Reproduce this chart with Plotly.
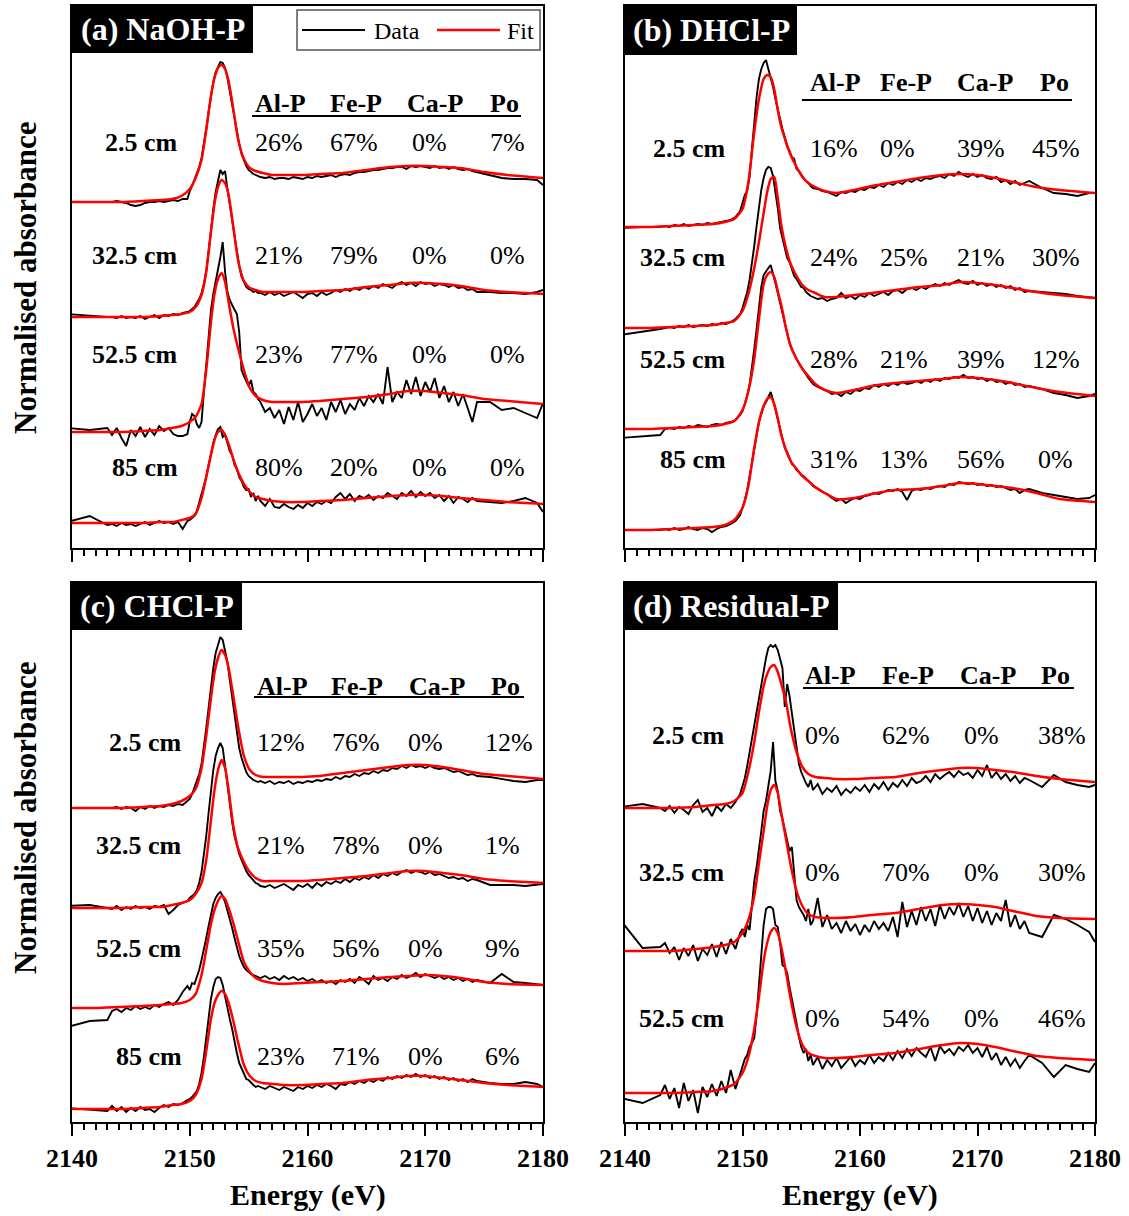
import plotly.graph_objects as go

# ---------------------------------------------------------------------------
# Energy axes (eV)
# ---------------------------------------------------------------------------
E_DATA = ([2139.6, 2141.5, 2143.0]
          + [round(2143.4 + 0.4 * i, 1) for i in range(17)]
          + [round(2150.0 + 0.2 * i, 1) for i in range(30)]
          + [round(2156.0 + 0.4 * i, 1) for i in range(47)]
          + [2175.5, 2176.5, 2177.5, 2178.5, 2179.5, 2180.0])

E_FIT = [2139.6, 2142, 2144, 2146, 2147.5, 2148.5, 2149.3, 2150.0, 2150.5, 2151.0,
         2151.4, 2151.8, 2152.1, 2152.4, 2152.7, 2153.0, 2153.3, 2153.7, 2154.1, 2154.6,
         2155.1, 2155.6, 2156.2, 2157.0, 2158.0, 2159.5, 2161, 2163, 2165, 2167,
         2168.5, 2170, 2171.5, 2173, 2175, 2177, 2180]

PHASES = ["Al-P", "Fe-P", "Ca-P", "Po"]

# ---------------------------------------------------------------------------
# Spectra: baseline-subtracted absorbance (x100)
# ---------------------------------------------------------------------------
# (a) NaOH-P
NAOH_DEPTHS = ["2.5 cm", "32.5 cm", "52.5 cm", "85 cm"]
NAOH_PCT = [[26, 67, 0, 7], [21, 79, 0, 0], [23, 77, 0, 0], [80, 20, 0, 0]]
NAOH_DATA_1 = [0, 0, 0,
               0, 1, 0, -1, -3, -4, -3, -1, 0, 0, 1, 0, 1, 2, 1, 3, 3,
               11, 16, 22, 28, 35, 44, 57, 73, 90, 107, 120, 130, 136, 140, 139, 134, 124, 110, 97, 84,
               70, 58, 48, 41, 36, 32, 30, 28, 27, 26,
               25, 24, 25, 23, 24, 24, 23, 25, 24, 23, 25, 24, 26, 25, 26, 27, 25, 27, 28, 27,
               29, 30, 30, 31, 32, 32, 33, 34, 34, 35, 35, 33, 36, 35, 36, 35, 34, 36, 34, 35,
               33, 35, 33, 32, 33, 31, 30,
               27, 24, 23, 23, 22, 17]
NAOH_DATA_2 = [3, 1, 0,
               0, -1, 1, -1, 0, -1, 1, -2, 0, 2, -1, 2, 1, 3, 2, 4, 5,
               6, 8, 10, 14, 18, 24, 33, 46, 64, 86, 108, 125, 136, 147, 143, 146, 128, 113, 97, 80,
               64, 51, 40, 34, 30, 28, 27, 25, 26, 24,
               24, 22, 25, 22, 24, 21, 23, 25, 22, 19, 23, 24, 21, 25, 22, 24, 27, 25, 28, 26,
               29, 27, 30, 28, 31, 29, 33, 31, 29, 33, 35, 32, 34, 31, 35, 33, 34, 31, 33, 32,
               30, 32, 29, 30, 27, 28, 25,
               25, 24, 24, 23, 25, 27]
NAOH_DATA_3 = [4, 2, 4,
               -3, 4, -6, -14, 2, -4, 5, -5, 3, -3, 6, 1, 4, -2, -4, -4, -2,
               10, 18, 16, 8, 4, 10, 40, 70, 100, 122, 138, 150, 162, 175, 190, 160, 140, 132, 127, 123,
               118, 100, 62, 56, 50, 46, 52, 40, 38, 33,
               30, 20, 24, 14, 22, 8, 25, 12, 30, 10, 18, 28, 16, 24, 12, 30, 20, 32, 18, 28,
               22, 34, 26, 36, 30, 38, 28, 65, 30, 40, 34, 52, 38, 55, 36, 50, 40, 54, 34, 46,
               30, 40, 26, 38, 24, 10, 30,
               30, 22, 24, 19, 14, 29]
NAOH_DATA_4 = [1, 7, -2,
               -1, -3, 0, -2, -1, -3, -1, 1, -2, 0, 2, 0, 1, -1, 1, -6, 2,
               3, 5, 7, 12, 20, 28, 36, 46, 58, 70, 80, 88, 94, 96, 86, 88, 80, 72, 68, 58,
               54, 46, 42, 36, 33, 34, 26, 30, 22, 27,
               22, 17, 24, 16, 15, 19, 16, 14, 18, 15, 20, 17, 21, 19, 22, 20, 26, 30, 24, 29,
               22, 27, 25, 28, 23, 27, 25, 30, 27, 24, 30, 27, 32, 26, 31, 27, 30, 25, 28, 22,
               27, 20, 26, 24, 21, 25, 22,
               21, 20, 22, 25, 20, 11]
NAOH_FIT_1 = [0, 0, 0, 1, 2, 3, 6, 13, 24, 42, 72, 106, 124, 134, 137, 133, 121, 93, 63, 43,
              34, 31, 29, 27, 27, 27, 28, 29, 32, 35, 36, 36, 35, 34, 30, 27, 24]
NAOH_FIT_2 = [0, 0, 0, 0, 1, 2, 3, 5, 10, 22, 45, 85, 113, 130, 137, 134, 122, 90, 57, 36,
              29, 27, 25, 25, 25, 25, 26, 27, 30, 32, 34, 34, 33, 31, 27, 25, 23]
NAOH_FIT_3 = [0, 0, 0, 1, 2, 4, 6, 10, 15, 28, 62, 110, 138, 153, 159, 150, 130, 104, 84, 62,
              44, 36, 32, 30, 30, 30, 31, 33, 35, 38, 41, 41, 39, 37, 33, 31, 28]
NAOH_FIT_4 = [0, 0, 0, 0, 1, 1, 3, 5, 9, 25, 46, 68, 83, 91, 93, 88, 79, 64, 51, 39,
              31, 26, 24, 22, 21, 21, 22, 23, 25, 27, 28, 28, 27, 25, 23, 21, 19]

# (b) DHCl-P
DHCL_DEPTHS = ["2.5 cm", "32.5 cm", "52.5 cm", "85 cm"]
DHCL_PCT = [[16, 0, 39, 45], [24, 25, 21, 30], [28, 21, 39, 12], [31, 13, 56, 0]]
DHCL_DATA_1 = [-1, 0, 0,
               1, 0, 2, 1, 3, 1, 2, 3, 2, 4, 3, 4, 5, 6, 7, 10, 16,
               24, 32, 36, 50, 78, 105, 130, 148, 158, 164, 167, 158, 150, 140, 128, 118, 106, 98, 90, 80,
               76, 70, 68, 58, 56, 52, 49, 46, 44, 41,
               39, 38, 36, 35, 33, 31, 35, 34, 36, 35, 38, 37, 40, 39, 42, 40, 44, 42, 45, 43,
               47, 45, 48, 46, 49, 48, 50, 51, 49, 53, 51, 55, 52, 50, 53, 50, 52, 49, 48, 50,
               45, 47, 43, 46, 42, 44, 46,
               39, 34, 33, 31, 34, 34]
DHCL_DATA_2 = [-7, -4, -1,
               0, 1, 0, 2, 1, 3, 1, 2, 3, 2, 4, 3, 5, 4, 6, 9, 14,
               20, 27, 36, 48, 64, 82, 102, 122, 138, 150, 158, 161, 160, 152, 138, 120, 100, 90, 82, 70,
               66, 58, 52, 49, 45, 41, 40, 36, 34, 32,
               31, 29, 30, 27, 29, 30, 35, 30, 32, 29, 33, 31, 35, 32, 34, 36, 33, 37, 38, 35,
               39, 40, 38, 41, 39, 42, 44, 42, 45, 43, 46, 48, 45, 44, 47, 43, 45, 42, 44, 41,
               43, 40, 42, 38, 40, 36, 37,
               36, 35, 34, 32, 31, 30]
DHCL_DATA_3 = [-9, -7, -6,
               0, 1, 0, 2, 1, 3, 2, 4, 3, 2, 4, 5, 4, 6, 7, 9, 14,
               18, 25, 33, 44, 60, 80, 100, 122, 142, 154, 158, 161, 164, 156, 146, 136, 126, 114, 104, 95,
               86, 80, 74, 70, 66, 62, 58, 55, 51, 48,
               45, 42, 40, 38, 35, 36, 33, 37, 35, 39, 38, 41, 40, 44, 42, 45, 43, 46, 44, 47,
               45, 46, 48, 46, 49, 47, 50, 48, 51, 50, 52, 51, 54, 51, 52, 50, 51, 48, 50, 47,
               48, 45, 47, 44, 45, 42, 43,
               40, 36, 34, 31, 33, 35]
DHCL_DATA_4 = [0, 0, 0,
               1, 0, 2, 0, 1, 3, 1, 0, 2, 1, -2, 1, 3, 4, 6, 9, 15,
               22, 30, 40, 54, 70, 84, 98, 108, 116, 124, 128, 134, 138, 130, 120, 110, 100, 92, 82, 78,
               72, 66, 64, 60, 58, 55, 54, 51, 49, 47,
               44, 41, 38, 36, 32, 29, 31, 27, 30, 32, 31, 34, 35, 37, 36, 38, 40, 39, 41, 38,
               30, 39, 41, 40, 42, 41, 43, 44, 43, 46, 45, 48, 47, 46, 47, 45, 46, 44, 45, 43,
               44, 42, 40, 41, 37, 40, 41,
               37, 35, 33, 31, 32, 35]
DHCL_FIT_1 = [0, 0, 1, 2, 3, 5, 8, 18, 45, 95, 128, 148, 152, 150, 138, 117, 100, 85, 72, 60,
              50, 44, 40, 36, 34, 37, 41, 45, 49, 52, 53, 52, 49, 45, 40, 37, 34]
DHCL_FIT_2 = [0, 0, 1, 2, 3, 5, 7, 17, 34, 60, 86, 115, 136, 149, 151, 130, 103, 80, 64, 52,
              43, 38, 35, 31, 31, 33, 35, 38, 41, 43, 46, 45, 43, 40, 36, 33, 30]
DHCL_FIT_3 = [0, 0, 1, 2, 3, 5, 8, 19, 38, 70, 110, 145, 154, 157, 152, 138, 124, 101, 83, 70,
              60, 53, 45, 39, 36, 39, 43, 46, 48, 50, 52, 51, 49, 46, 41, 37, 33]
DHCL_FIT_4 = [0, 0, 1, 2, 3, 5, 10, 22, 44, 82, 108, 124, 131, 133, 126, 112, 95, 80, 69, 61,
              54, 49, 43, 37, 31, 32, 36, 40, 41, 44, 47, 46, 44, 42, 37, 31, 28]

# (c) CHCl-P
CHCL_DEPTHS = ["2.5 cm", "32.5 cm", "52.5 cm", "85 cm"]
CHCL_PCT = [[12, 76, 0, 12], [21, 78, 0, 1], [35, 56, 0, 9], [23, 71, 0, 6]]
CHCL_DATA_1 = [0, 0, 0,
               0, 1, -1, 1, 0, -3, 1, -1, 2, 0, 2, 1, 3, 2, 4, 3, 7,
               9, 14, 20, 26, 34, 44, 60, 80, 100, 122, 140, 155, 164, 171, 168, 158, 146, 128, 110, 92,
               76, 60, 50, 42, 36, 32, 30, 28, 27, 26,
               27, 25, 27, 24, 26, 25, 27, 24, 26, 25, 27, 26, 28, 27, 29, 28, 31, 29, 32, 31,
               34, 32, 35, 34, 37, 35, 38, 37, 40, 39, 42, 40, 43, 41, 42, 40, 42, 40, 39, 40,
               38, 36, 37, 35, 33, 34, 32,
               31, 29, 27, 26, 28, 28]
CHCL_DATA_2 = [2, 3, 0,
               -1, 2, -2, 1, -1, 2, 0, 1, -1, 2, 1, 3, -6, -2, 3, 5, 7,
               10, 12, 14, 18, 25, 36, 52, 72, 95, 118, 138, 152, 160, 165, 160, 142, 122, 102, 86, 72,
               62, 54, 48, 42, 37, 33, 30, 27, 25, 24,
               22, 21, 23, 20, 22, 24, 21, 18, 23, 21, 24, 20, 25, 22, 26, 24, 27, 25, 29, 26,
               30, 28, 31, 29, 33, 30, 34, 32, 35, 33, 36, 38, 35, 37, 36, 34, 36, 33, 34, 32,
               30, 31, 29, 30, 27, 29, 28,
               23, 23, 23, 22, 23, 24]
CHCL_DATA_3 = [-19, -13, -12,
               -3, -1, -4, 0, -2, 2, -1, 1, -1, 3, 1, 4, 6, 3, 8, 16, 22,
               18, 25, 24, 30, 38, 48, 58, 70, 82, 94, 104, 110, 114, 116, 112, 106, 98, 90, 80, 70,
               60, 52, 46, 41, 38, 36, 34, 33, 32, 31,
               30, 32, 29, 31, 28, 32, 29, 31, 28, 30, 27, 29, 26, 28, 25, 27, 24, 28, 26, 29,
               25, 31, 28, 24, 32, 28, 30, 27, 31, 29, 33, 30, 32, 35, 31, 34, 32, 30, 32, 29,
               31, 28, 30, 27, 29, 26, 28,
               25, 34, 26, 25, 24, 23]
CHCL_DATA_4 = [1, -1, -2,
               3, -2, 2, -3, 1, -2, 2, -1, 0, -3, 1, 4, 2, 5, 4, 6, 9,
               10, 12, 15, 18, 25, 36, 52, 72, 92, 110, 122, 130, 132, 131, 124, 112, 100, 90, 80, 66,
               56, 46, 40, 35, 30, 29, 26, 24, 22, 23,
               22, 20, 23, 21, 19, 22, 20, 18, 22, 20, 23, 21, 24, 22, 25, 23, 20, 25, 24, 27,
               25, 28, 26, 29, 27, 30, 28, 32, 30, 33, 31, 34, 32, 35, 32, 34, 31, 33, 30, 32,
               29, 31, 28, 30, 27, 30, 28,
               26, 25, 25, 27, 25, 22]
CHCL_FIT_1 = [0, 0, 0, 1, 2, 4, 7, 12, 19, 40, 72, 110, 135, 150, 158, 153, 140, 112, 82, 52,
              38, 33, 31, 31, 31, 31, 32, 35, 38, 41, 43, 43, 41, 38, 34, 32, 29]
CHCL_FIT_2 = [0, 0, 0, 1, 1, 3, 5, 8, 14, 25, 48, 88, 118, 138, 148, 140, 118, 82, 60, 46,
              36, 30, 27, 27, 27, 27, 28, 30, 32, 35, 37, 37, 35, 33, 29, 27, 25]
CHCL_FIT_3 = [0, 0, 1, 2, 3, 4, 5, 8, 14, 33, 58, 84, 98, 107, 112, 109, 100, 85, 67, 46,
              36, 30, 27, 25, 24, 25, 26, 27, 29, 31, 32, 33, 32, 30, 26, 24, 23]
CHCL_FIT_4 = [0, 0, 0, 1, 2, 4, 5, 8, 14, 30, 58, 90, 106, 114, 118, 115, 106, 88, 67, 44,
              33, 28, 26, 25, 24, 24, 25, 26, 29, 31, 33, 33, 31, 29, 26, 24, 22]

# (d) Residual-P
RESID_DEPTHS = ["2.5 cm", "32.5 cm", "52.5 cm"]
RESID_PCT = [[0, 62, 0, 38], [0, 70, 0, 30], [0, 54, 0, 46]]
RESID_DATA_1 = [1, 4, 0,
                -3, 2, -5, 1, -2, -6, 3, 8, -4, 0, -8, 2, -3, 4, 0, 6, 14,
                22, 30, 42, 56, 70, 84, 98, 110, 124, 138, 150, 160, 163, 161, 163, 158, 150, 140, 101, 124,
                112, 95, 75, 56, 44, 36, 30, 25, 21, 28,
                18, 24, 14, 20, 16, 22, 13, 19, 15, 21, 17, 23, 16, 24, 19, 26, 18, 25, 21, 28,
                22, 30, 25, 27, 32, 26, 34, 29, 33, 36, 31, 37, 33, 35, 30, 38, 32, 43, 30, 36,
                29, 34, 27, 32, 25, 30, 28,
                21, 33, 26, 23, 21, 23]
RESID_DATA_2 = [31, 3, 4,
                8, -2, 4, -9, 3, -5, 6, -10, 2, -4, 7, -6, 9, -3, 12, 2, 18,
                22, 14, 26, 21, 45, 70, 84, 100, 120, 140, 150, 165, 180, 209, 170, 160, 140, 132, 122, 110,
                100, 104, 78, 51, 44, 40, 36, 30, 42, 26,
                30, 53, 24, 36, 22, 28, 18, 30, 20, 27, 16, 26, 19, 30, 22, 28, 20, 34, 14, 49,
                24, 40, 26, 44, 30, 42, 25, 46, 32, 44, 36, 48, 34, 45, 30, 43, 28, 40, 26, 38,
                30, 51, 24, 36, 22, 30, 18,
                14, 36, 32, 26, 19, 9]
RESID_DATA_3 = [-5, -10, -2,
                8, -6, 5, -15, 10, -8, 3, -20, 6, -4, 9, -3, 12, 0, 23, 4, 20,
                26, 34, 38, 46, 50, 55, 78, 110, 140, 168, 184, 186, 186, 184, 168, 166, 150, 128, 126, 120,
                106, 95, 82, 70, 56, 46, 40, 44, 32, 38,
                28, 36, 24, 33, 27, 35, 25, 31, 36, 27, 33, 29, 38, 30, 36, 32, 40, 33, 42, 35,
                44, 37, 45, 40, 36, 46, 32, 47, 40, 44, 38, 46, 42, 48, 40, 45, 36, 46, 33, 40,
                28, 36, 27, 34, 25, 32, 38,
                30, 16, 28, 24, 21, 30]
RESID_FIT_1 = [0, 0, 0, 1, 3, 4, 7, 15, 36, 66, 96, 122, 134, 141, 143, 136, 124, 106, 80, 56,
               41, 34, 31, 30, 29, 29, 30, 31, 35, 38, 40, 40, 38, 36, 32, 29, 26]
RESID_FIT_2 = [0, 0, 0, 2, 4, 6, 9, 18, 31, 55, 88, 120, 145, 161, 166, 158, 138, 112, 86, 60,
               45, 37, 34, 33, 33, 34, 36, 38, 42, 46, 47, 46, 44, 40, 35, 33, 32]
RESID_FIT_3 = [0, 0, 0, 1, 2, 5, 9, 20, 36, 64, 96, 132, 150, 161, 165, 160, 146, 121, 94, 66,
               48, 40, 37, 35, 35, 36, 38, 40, 44, 48, 50, 49, 46, 42, 37, 35, 33]

SCALE = 0.01  # stored values are absorbance x100

# ---------------------------------------------------------------------------
# Panel layout
# ---------------------------------------------------------------------------
SERIF = "Liberation Serif"
X_LEFT = [72 / 1129, 543 / 1129]
X_RIGHT = [625 / 1129, 1095 / 1129]
Y_TOP = [1 - 548 / 1216, 1 - 6 / 1216]
Y_BOTTOM = [1 - 1122 / 1216, 1 - 583 / 1216]

panels = [
    dict(name="(a) NaOH-P", ax="", xdom=X_LEFT, ydom=Y_TOP, ytop=5.42,
         depths=NAOH_DEPTHS, pct=NAOH_PCT,
         data=[NAOH_DATA_1, NAOH_DATA_2, NAOH_DATA_3, NAOH_DATA_4],
         fit=[NAOH_FIT_1, NAOH_FIT_2, NAOH_FIT_3, NAOH_FIT_4],
         offsets=[3.46, 2.31, 1.16, 0.25],
         box=(2155.37, 4.95, 5.19, 2147.69),
         head_y=4.445, rule=(2155.29, 2178.13, 4.32),
         head_x=[2155.37, 2161.74, 2168.28, 2175.33],
         rows_y=[4.06, 2.93, 1.94, 0.81],
         cols=[(2155.37, "left"), (2161.74, "left"), (2170.40, "center"), (2175.33, "left")],
         depth_x=2149.17, ticklabels=False),
    dict(name="(b) DHCl-P", ax="2", xdom=X_RIGHT, ydom=Y_TOP, ytop=5.42,
         depths=DHCL_DEPTHS, pct=DHCL_PCT,
         data=[DHCL_DATA_1, DHCL_DATA_2, DHCL_DATA_3, DHCL_DATA_4],
         fit=[DHCL_FIT_1, DHCL_FIT_2, DHCL_FIT_3, DHCL_FIT_4],
         offsets=[3.21, 2.20, 1.19, 0.18],
         box=(2154.64, 4.93, 5.18, 2147.32),
         head_y=4.655, rule=(2155.06, 2178.04, 4.48),
         head_x=[2155.57, 2161.53, 2168.09, 2175.15],
         rows_y=[4.00, 2.91, 1.89, 0.89],
         cols=[(2155.57, "left"), (2161.53, "left"), (2168.09, "left"), (2176.68, "center")],
         depth_x=2148.77, ticklabels=False),
    dict(name="(c) CHCl-P", ax="3", xdom=X_LEFT, ydom=Y_BOTTOM, ytop=5.39,
         depths=CHCL_DEPTHS, pct=CHCL_PCT,
         data=[CHCL_DATA_1, CHCL_DATA_2, CHCL_DATA_3, CHCL_DATA_4],
         fit=[CHCL_FIT_1, CHCL_FIT_2, CHCL_FIT_3, CHCL_FIT_4],
         offsets=[3.14, 2.14, 1.14, 0.13],
         box=(2154.44, 4.92, 5.16, 2147.22),
         head_y=4.36, rule=(2155.46, 2178.39, 4.25),
         head_x=[2155.54, 2161.83, 2168.45, 2175.41],
         rows_y=[3.80, 2.77, 1.74, 0.66],
         cols=[(2155.54, "left"), (2161.91, "left"), (2170.06, "center"), (2174.90, "left")],
         depth_x=2149.51, ticklabels=True),
    dict(name="(d) Residual-P", ax="4", xdom=X_RIGHT, ydom=Y_BOTTOM, ytop=5.39,
         depths=RESID_DEPTHS, pct=RESID_PCT,
         data=[RESID_DATA_1, RESID_DATA_2, RESID_DATA_3],
         fit=[RESID_FIT_1, RESID_FIT_2, RESID_FIT_3],
         offsets=[3.14, 1.71, 0.29],
         box=(2158.13, 4.92, 5.16, 2149.06),
         head_y=4.47, rule=(2155.15, 2178.21, 4.34),
         head_x=[2155.15, 2161.70, 2168.34, 2175.23],
         rows_y=[3.87, 2.50, 1.04],
         cols=[(2155.15, "left"), (2161.70, "left"), (2170.38, "center"), (2174.98, "left")],
         depth_x=2148.68, ticklabels=True),
]

fig = go.Figure()
shapes = []
annotations = []

for p in panels:
    xr, yr = "x" + p["ax"], "y" + p["ax"]
    for k, (d, f) in enumerate(zip(p["data"], p["fit"])):
        if len(d) != len(E_DATA) or len(f) != len(E_FIT):
            raise ValueError(f"{p['name']} spectrum {k}: {len(d)} / {len(f)} points")
        off = p["offsets"][k]
        fig.add_trace(go.Scatter(
            x=E_DATA, y=[off + v * SCALE for v in d], mode="lines", name="Data",
            line=dict(color="black", width=1.9), xaxis=xr, yaxis=yr, showlegend=False))
        fig.add_trace(go.Scatter(
            x=E_FIT, y=[off + v * SCALE for v in f], mode="lines", name="Fit",
            line=dict(color="#ff0000", width=2.5, shape="spline", smoothing=0.6),
            xaxis=xr, yaxis=yr, showlegend=False))

    # panel title tag
    bx1, by0, bty, btx = p["box"]
    shapes.append(dict(type="rect", xref=xr, yref=yr, x0=2140, x1=bx1, y0=by0, y1=p["ytop"],
                       fillcolor="black", line=dict(width=0), layer="above"))
    annotations.append(dict(xref=xr, yref=yr, x=btx, y=bty, text=p["name"], showarrow=False,
                            xanchor="center", yanchor="middle",
                            font=dict(family=SERIF, size=32, color="white", weight="bold")))

    # column header with rule
    for hx, ph in zip(p["head_x"], PHASES):
        annotations.append(dict(xref=xr, yref=yr, x=hx, y=p["head_y"], text=ph, showarrow=False,
                                xanchor="left", yanchor="middle",
                                font=dict(family=SERIF, size=26, color="black", weight="bold")))
    r0, r1, ry = p["rule"]
    shapes.append(dict(type="line", xref=xr, yref=yr, x0=r0, x1=r1, y0=ry, y1=ry,
                       line=dict(color="black", width=2)))

    # depth labels and fractions
    for ry_, depth, row in zip(p["rows_y"], p["depths"], p["pct"]):
        annotations.append(dict(xref=xr, yref=yr, x=p["depth_x"], y=ry_, text=depth,
                                showarrow=False, xanchor="right", yanchor="middle",
                                font=dict(family=SERIF, size=26, color="black", weight="bold")))
        for (cx, anchor), val in zip(p["cols"], row):
            annotations.append(dict(xref=xr, yref=yr, x=cx, y=ry_, text=f"{val}%",
                                    showarrow=False, xanchor=anchor, yanchor="middle",
                                    font=dict(family=SERIF, size=26, color="black")))

    axis_common = dict(showline=True, linecolor="black", linewidth=2, mirror=True,
                       showgrid=False, zeroline=False, automargin=False)
    fig.layout["xaxis" + p["ax"]] = dict(
        domain=p["xdom"], range=[2140, 2180], anchor=yr, tick0=2140, dtick=10,
        ticks="outside", ticklen=12, tickwidth=2, tickcolor="black",
        showticklabels=p["ticklabels"], ticklabelstandoff=0,
        tickfont=dict(family=SERIF, size=26, color="black", weight="bold"),
        minor=dict(ticks="outside", dtick=1, tick0=2140, ticklen=6, tickwidth=1.5,
                   tickcolor="black", showgrid=False),
        **axis_common)
    fig.layout["yaxis" + p["ax"]] = dict(
        domain=p["ydom"], range=[0, p["ytop"]], anchor=xr, ticks="", showticklabels=False,
        **axis_common)

# legend (panel a)
LEG_Y = 5.18
shapes.append(dict(type="rect", xref="x", yref="y", x0=2159.11, x1=2179.75, y0=4.98, y1=5.38,
                   fillcolor="white", line=dict(color="#555555", width=1.5)))
shapes.append(dict(type="line", xref="x", yref="y", x0=2159.53, x1=2164.88, y0=LEG_Y, y1=LEG_Y,
                   line=dict(color="black", width=2)))
shapes.append(dict(type="line", xref="x", yref="y", x0=2171.0, x1=2176.35, y0=LEG_Y, y1=LEG_Y,
                   line=dict(color="#ff0000", width=2.5)))
annotations.append(dict(xref="x", yref="y", x=2165.48, y=5.17, text="Data", showarrow=False,
                        xanchor="left", yanchor="middle",
                        font=dict(family=SERIF, size=24, color="black")))
annotations.append(dict(xref="x", yref="y", x=2176.77, y=5.17, text="Fit", showarrow=False,
                        xanchor="left", yanchor="middle",
                        font=dict(family=SERIF, size=24, color="black")))

# axis titles
for yp in (1 - 278 / 1216, 1 - 818 / 1216):
    annotations.append(dict(xref="paper", yref="paper", x=25 / 1129, y=yp,
                            text="Normalised absorbance", textangle=-90, showarrow=False,
                            xanchor="center", yanchor="middle",
                            font=dict(family=SERIF, size=31, color="black", weight="bold")))
for xp in (307.5 / 1129, 860 / 1129):
    annotations.append(dict(xref="paper", yref="paper", x=xp, y=1 - 1195 / 1216,
                            text="Energy (eV)", showarrow=False,
                            xanchor="center", yanchor="middle",
                            font=dict(family=SERIF, size=30, color="black", weight="bold")))

fig.update_layout(width=1129, height=1216,
                  margin=dict(l=0, r=0, t=0, b=0, pad=0, autoexpand=False),
                  paper_bgcolor="white", plot_bgcolor="white", showlegend=False,
                  shapes=shapes, annotations=annotations)

fig.write_html("out.html")
